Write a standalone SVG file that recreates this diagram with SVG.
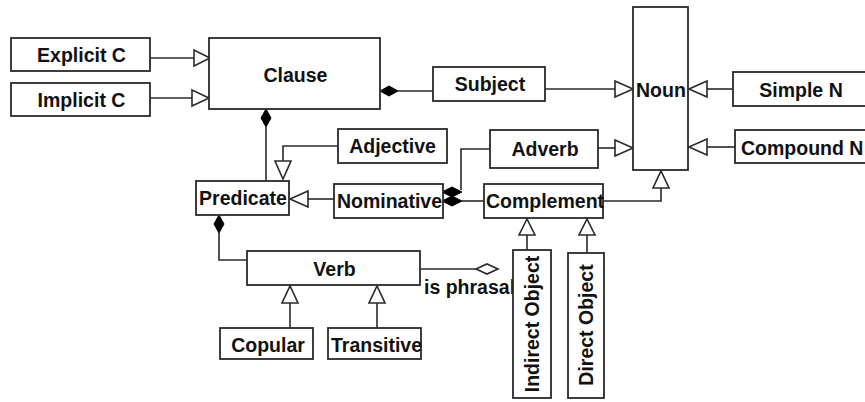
<svg xmlns="http://www.w3.org/2000/svg" width="865" height="402" viewBox="0 0 865 402">
<style>
.box{fill:#fff;stroke:#2a2a2a;stroke-width:1.8}
.ln{fill:none;stroke:#2a2a2a;stroke-width:1.6}
.tri{fill:#fff;stroke:#2a2a2a;stroke-width:1.6}
.dia{fill:#000;stroke:#000;stroke-width:1}
.odia{fill:#fff;stroke:#2a2a2a;stroke-width:1.6}
text{font-family:"Liberation Sans",Arial,sans-serif;font-weight:bold;font-size:19.5px;fill:#111}
.c{text-anchor:middle}
</style>
<rect width="865" height="402" fill="#fff"/>
<g id="connectors">
<line class="ln" x1="150" y1="58" x2="194" y2="58"/>
<polygon class="tri" points="194,50 194,66 210,58"/>
<line class="ln" x1="150" y1="98" x2="192" y2="98"/>
<polygon class="tri" points="192,90 192,106 209,98"/>
<line class="ln" x1="398" y1="91" x2="433" y2="91"/>
<polygon class="dia" points="380,91 389,86 398,91 389,96"/>
<line class="ln" x1="545" y1="89" x2="615" y2="89"/>
<polygon class="tri" points="615,81 615,97 633,89"/>
<line class="ln" x1="733" y1="89" x2="707" y2="89"/>
<polygon class="tri" points="707,81 707,97 689,89"/>
<line class="ln" x1="735" y1="147" x2="707" y2="147"/>
<polygon class="tri" points="707,139 707,155 689,147"/>
<line class="ln" x1="598" y1="148" x2="615" y2="148"/>
<polygon class="tri" points="615,140 615,156 633,148"/>
<polyline class="ln" points="603,201 661,201 661,188"/>
<polygon class="tri" points="653,188 669,188 661,171"/>
<polyline class="ln" points="490,149 461,149 461,190"/>
<line class="ln" x1="462" y1="201" x2="484" y2="201"/>
<polygon class="dia" points="442,192 452,187 462,192 452,197"/>
<polygon class="dia" points="442,201 452,196 462,201 452,206"/>
<line class="ln" x1="334" y1="199" x2="308" y2="199"/>
<polygon class="tri" points="308,191 308,207 290,199"/>
<polyline class="ln" points="338,146 283,146 283,161"/>
<polygon class="tri" points="275,161 291,161 283,179"/>
<line class="ln" x1="266" y1="127" x2="266" y2="181"/>
<polygon class="dia" points="266,109 261,118 266,127 271,118"/>
<polyline class="ln" points="219,233 219,260 247,260"/>
<polygon class="dia" points="219,215 214,224 219,233 224,224"/>
<line class="ln" x1="421" y1="269" x2="476" y2="269"/>
<polygon class="odia" points="476,269 487,264 498,269 487,274"/>
<line class="ln" x1="290" y1="328" x2="290" y2="303"/>
<polygon class="tri" points="282,303 298,303 290,286"/>
<line class="ln" x1="377" y1="328" x2="377" y2="303"/>
<polygon class="tri" points="369,303 385,303 377,286"/>
<line class="ln" x1="527" y1="250" x2="527" y2="235"/>
<polygon class="tri" points="519,235 535,235 527,219"/>
<line class="ln" x1="587" y1="253" x2="587" y2="235"/>
<polygon class="tri" points="579,235 595,235 587,219"/>
</g>
<g id="explicit-c"><rect class="box" x="11" y="38" width="139" height="33"/><text class="c" x="81.5" y="62">Explicit C</text></g>
<g id="implicit-c"><rect class="box" x="11" y="83" width="139" height="33"/><text class="c" x="81.5" y="107">Implicit C</text></g>
<g id="clause"><rect class="box" x="209" y="38" width="171" height="71"/><text class="c" x="295.5" y="82">Clause</text></g>
<g id="subject"><rect class="box" x="433" y="67" width="112" height="34"/><text class="c" x="490" y="91">Subject</text></g>
<g id="noun"><rect class="box" x="633" y="7" width="55" height="163"/><text x="636" y="97">Noun</text></g>
<g id="simple-n"><rect class="box" x="733" y="72" width="140" height="34"/><text class="c" x="801" y="97">Simple N</text></g>
<g id="compound-n"><rect class="box" x="735" y="130" width="140" height="33"/><text x="741" y="155">Compound N</text></g>
<g id="adjective"><rect class="box" x="338" y="129" width="109" height="34"/><text class="c" x="392.5" y="153">Adjective</text></g>
<g id="adverb"><rect class="box" x="490" y="130" width="108" height="38"/><text class="c" x="545" y="156">Adverb</text></g>
<g id="predicate"><rect class="box" x="196" y="181" width="93" height="34"/><text class="c" x="243" y="205">Predicate</text></g>
<g id="nominative"><rect class="box" x="334" y="184" width="109" height="34"/><text class="c" x="389.5" y="208">Nominative</text></g>
<g id="complement"><rect class="box" x="484" y="184" width="119" height="34"/><text class="c" x="545" y="208">Complement</text></g>
<g id="verb"><rect class="box" x="247" y="251" width="173" height="34"/><text class="c" x="334.5" y="276">Verb</text></g>
<g id="is-phrasal"><text x="424" y="294">is phrasal</text></g>
<g id="copular"><rect class="box" x="220" y="328" width="93" height="31"/><text class="c" x="268" y="352">Copular</text></g>
<g id="transitive"><rect class="box" x="328" y="328" width="93" height="31"/><text class="c" x="376.5" y="352">Transitive</text></g>
<g id="indirect-object"><rect class="box" x="513" y="250" width="38" height="148"/><text class="c" transform="translate(539,324) rotate(-90)">Indirect Object</text></g>
<g id="direct-object"><rect class="box" x="568" y="253" width="36" height="145"/><text class="c" transform="translate(593,325) rotate(-90)">Direct Object</text></g>
</svg>
